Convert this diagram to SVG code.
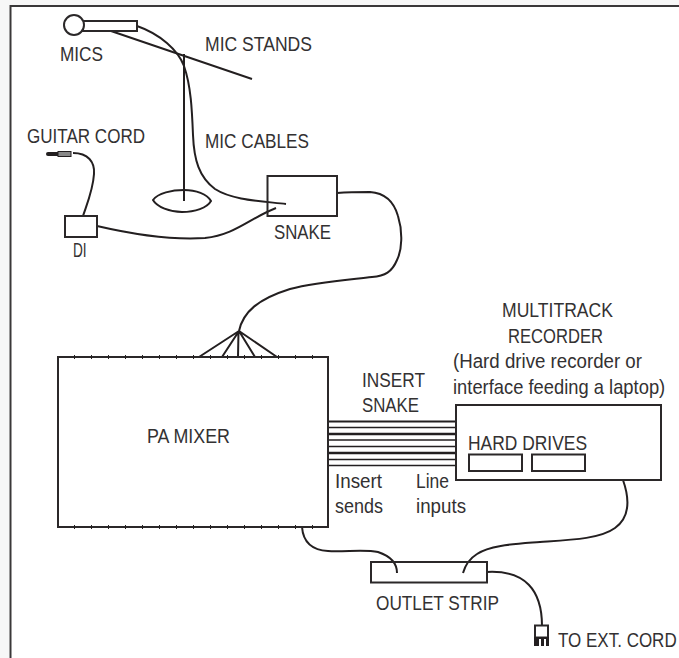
<svg xmlns="http://www.w3.org/2000/svg" width="679" height="658" viewBox="0 0 679 658">
<style>
.l{fill:none;stroke:#231f20;stroke-width:2}
.b{fill:#fff;stroke:#2b2829;stroke-width:2}
.n{fill:none;stroke:#2b2829;stroke-width:2}
.t{fill:none;stroke:#231f20;stroke-width:4;stroke-dasharray:1 16}
text{font-family:"Liberation Sans",Arial,sans-serif;font-size:21px;fill:#333132}
.s{font-size:20px}
</style>
<rect width="679" height="658" fill="#fff"/>
<path d="M0 0H679V5H9V658H0Z" fill="#f7f7f7"/>
<path d="M10.500 658V6H679" fill="none" stroke="#3a3839" stroke-width="2"/>
<g id="connectors">
<path class="l" d="M111 31L252 79"/>
<path class="l" d="M184 54V201"/>
<path class="l" d="M137 26C160 34 178 50 184 66C191 86 192 110 193 135C194 160 199 177 215 189C232 200 260 201 286 204"/>
<path class="l" d="M73 153C88 153 95 162 94 174C93 190 87 204 83 216"/>
<path class="l" d="M97 226C140 236 175 240 205 238C235 235 250 218 276 208"/>
<path class="l" d="M337 193C350 192 360 192 370 192C385 193 394 202 398 216C403 232 402 250 397 260C392 272 385 276 372 277C345 280 315 282 290 289C258 299 243 312 239 331"/>
<path class="l" d="M239 331L199 357M239 331L222 357M238.500 331L238 357M239 331L255 357M239 331L277 357"/>
<g stroke="#231f20" fill="none">
<path stroke-width="2" d="M328 421.500H456"/>
<path stroke-width="1.500" d="M328 427.500H456"/>
<path stroke-width="2.300" d="M328 434H456"/>
<path stroke-width="1.500" d="M328 440H456"/>
<path stroke-width="1.500" d="M328 446.500H456"/>
<path stroke-width="2.300" d="M328 453H456"/>
<path stroke-width="1.500" d="M328 459.500H456"/>
<path stroke-width="1.500" d="M328 465.500H456"/>
</g>
<path class="l" d="M302 527C303 540 310 550 328 551C345 552 365 549 378 552C390 556 397 563 397 573"/>
<path class="l" d="M623 480C630 500 629 518 615 528C600 539 570 540 540 542C515 544 490 545 477 554C469 559 465 566 463 573"/>
<path class="l" d="M487 572C525 570 542 590 542 626"/>
</g>
<g id="mics">
<rect class="b" x="83" y="21" width="54" height="10"/>
<circle class="b" cx="74" cy="25" r="10"/>
<text x="60" y="61" textLength="43" lengthAdjust="spacingAndGlyphs">MICS</text>
</g>
<g id="mic-stand-base">
<path class="l" d="M153 200C158 193 172 190 184 190C196 190 207 194 211 201C207 208 195 212 182 212C170 212 157 207 153 200Z"/>
<text x="205" y="51" textLength="107" lengthAdjust="spacingAndGlyphs">MIC STANDS</text>
<text x="205" y="148" textLength="104" lengthAdjust="spacingAndGlyphs">MIC CABLES</text>
</g>
<g id="guitar-cord">
<path d="M48 154H58" stroke="#231f20" stroke-width="4" stroke-linecap="round"/>
<rect x="58" y="151.500" width="13" height="5" fill="#888" stroke="#231f20"/>
<text x="27" y="143" textLength="118" lengthAdjust="spacingAndGlyphs">GUITAR CORD</text>
</g>
<g id="di">
<rect class="b" x="65" y="216" width="32" height="21"/>
<text transform="translate(73 257) scale(.65 1)">DI</text>
</g>
<g id="snake">
<rect class="n" x="267.500" y="176" width="69.500" height="40"/>
<text x="274" y="239" textLength="57" lengthAdjust="spacingAndGlyphs">SNAKE</text>
</g>
<g id="pa-mixer">
<rect class="n" x="58" y="357" width="270" height="170"/>
<path class="t" d="M74 357H328M74 527H328"/>
<text x="147" y="443" textLength="83" lengthAdjust="spacingAndGlyphs">PA MIXER</text>
</g>
<g id="recorder">
<rect class="b" x="456" y="405" width="205" height="75"/>
<text x="468" y="450" textLength="119" lengthAdjust="spacingAndGlyphs">HARD DRIVES</text>
<rect class="n" x="469" y="454.500" width="53" height="16.500"/>
<rect class="n" x="532" y="454.500" width="53" height="16.500"/>
<text x="502" y="317" textLength="111" lengthAdjust="spacingAndGlyphs">MULTITRACK</text>
<text x="508" y="343" textLength="95" lengthAdjust="spacingAndGlyphs">RECORDER</text>
<text class="s" x="453" y="368" textLength="189" lengthAdjust="spacingAndGlyphs">(Hard drive recorder or</text>
<text class="s" transform="translate(453 393.500) scale(.918 1)">interface feeding a laptop)</text>
</g>
<g id="labels">
<text x="362" y="387" textLength="63" lengthAdjust="spacingAndGlyphs">INSERT</text>
<text x="362" y="412" textLength="57" lengthAdjust="spacingAndGlyphs">SNAKE</text>
<text class="s" x="335" y="488" textLength="47" lengthAdjust="spacingAndGlyphs">Insert</text>
<text class="s" x="335" y="513" textLength="48" lengthAdjust="spacingAndGlyphs">sends</text>
<text class="s" x="416" y="488" textLength="33" lengthAdjust="spacingAndGlyphs">Line</text>
<text class="s" x="416" y="513" textLength="50" lengthAdjust="spacingAndGlyphs">inputs</text>
</g>
<g id="outlet-strip">
<rect class="n" x="371" y="562" width="116" height="20.500"/>
<text x="376" y="610" textLength="123" lengthAdjust="spacingAndGlyphs">OUTLET STRIP</text>
</g>
<g id="plug">
<rect class="n" x="535" y="625.500" width="13" height="12"/>
<path d="M534 637h15v9h-3v-7h-2v7h-3v-7h-2v7h-5z" fill="#231f20"/>
<text transform="translate(558 647) scale(.81 1)">TO EXT. CORD</text>
</g>
</svg>
